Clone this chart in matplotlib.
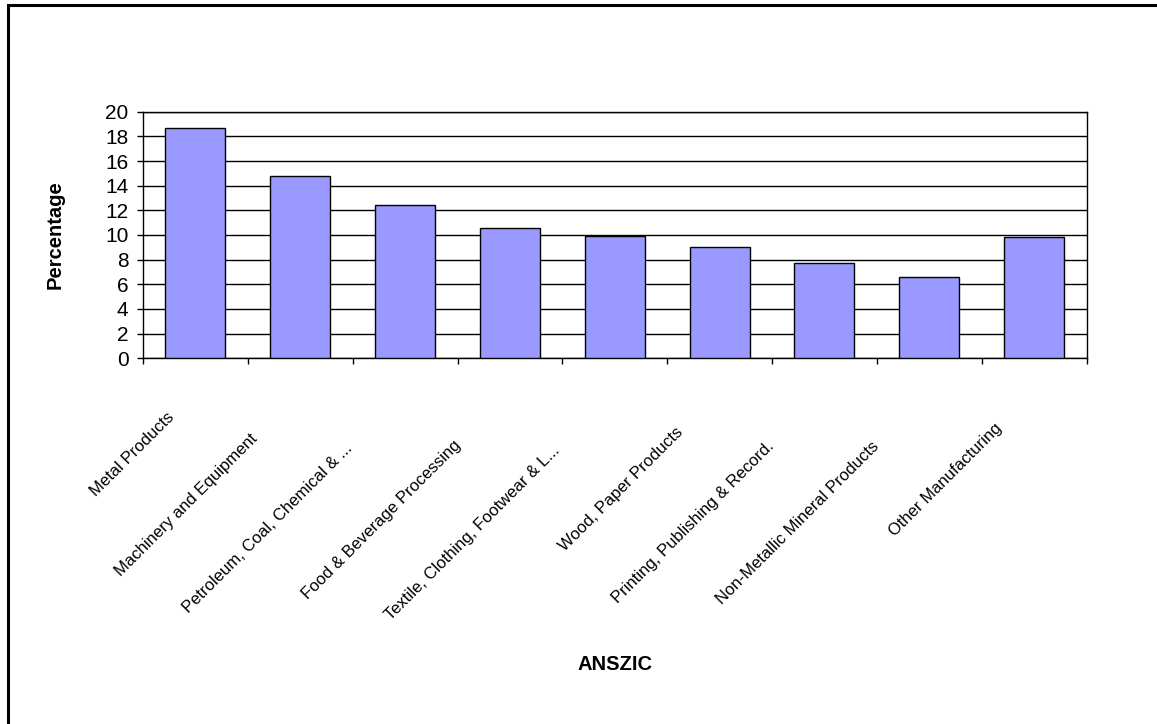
import numpy as np
import matplotlib
matplotlib.use("Agg")
import matplotlib.pyplot as plt
import matplotlib.transforms as mtransforms
from matplotlib.patches import Rectangle

# --- data
categories = [
    "Metal Products",
    "Machinery and Equipment",
    "Petroleum, Coal, Chemical & ...",
    "Food & Beverage Processing",
    "Textile, Clothing, Footwear & L...",
    "Wood, Paper Products",
    "Printing, Publishing & Record.",
    "Non-Metallic Mineral Products",
    "Other Manufacturing",
]
percentages = [18.7, 14.8, 12.4, 10.6, 9.95, 9.0, 7.7, 6.6, 9.8]
yticks = list(range(0, 21, 2))

plt.rcParams["font.family"] = ["Liberation Sans", "DejaVu Sans"]

W, H = 1157, 724
fig = plt.figure(figsize=(W / 100, H / 100), dpi=100)

# outer chart-area border (right/bottom edges fall off the picture)
fig.patches.append(Rectangle((8 / W, -0.1), 1.2, 1 - 5 / H + 0.1,
                             transform=fig.transFigure, fill=False,
                             edgecolor="black", linewidth=2.2))

ax = fig.add_axes([143 / W, 1 - 358.3 / H, (1086.5 - 143) / W, (358.3 - 111.7) / H])

x = np.arange(len(categories))
ax.bar(x, percentages, width=1 / 1.75, color="#9999FF", edgecolor="black",
       linewidth=1.0, zorder=3)

ax.set_xlim(-0.5, len(categories) - 0.5)
ax.set_ylim(0, 20)
ax.set_yticks(yticks)
ax.yaxis.grid(True, color="black", linewidth=1.0, zorder=0)
ax.set_axisbelow(True)
for s in ax.spines.values():
    s.set_linewidth(1.0)
    s.set_color("black")

ax.tick_params(axis="y", direction="out", length=4.5, width=1.0, pad=6,
               labelsize=15)

# category ticks between bars, labels at bar centres
ax.set_xticks(x)
ax.set_xticks(np.arange(-0.5, len(categories)), minor=True)
ax.tick_params(axis="x", which="major", length=0, pad=0)
ax.tick_params(axis="x", which="minor", direction="out", length=4.5, width=1.0)
ax.set_xticklabels(categories, rotation=45, ha="right", va="baseline",
                   rotation_mode="anchor", fontsize=12)

# excel shifts longer rotated labels further down-left along their direction
renderer = fig.canvas.get_renderer()
for lab in ax.get_xticklabels():
    tmp = fig.text(0, 0, lab.get_text(), fontsize=12)
    L = tmp.get_window_extent(renderer).width
    tmp.remove()
    dx = 8 - 0.259 * L
    dy = -(31 + 0.259 * L)
    off = mtransforms.ScaledTranslation(dx / 100, dy / 100, fig.dpi_scale_trans)
    lab.set_transform(lab.get_transform() + off)

fig.text(55 / W, 1 - 235 / H, "Percentage", rotation=90, ha="center",
         va="center", fontsize=14.5, fontweight="bold")
fig.text(615 / W, 1 - 665 / H, "ANSZIC", ha="center", va="center",
         fontsize=14.5, fontweight="bold")

fig.savefig("out.png", dpi=100)
